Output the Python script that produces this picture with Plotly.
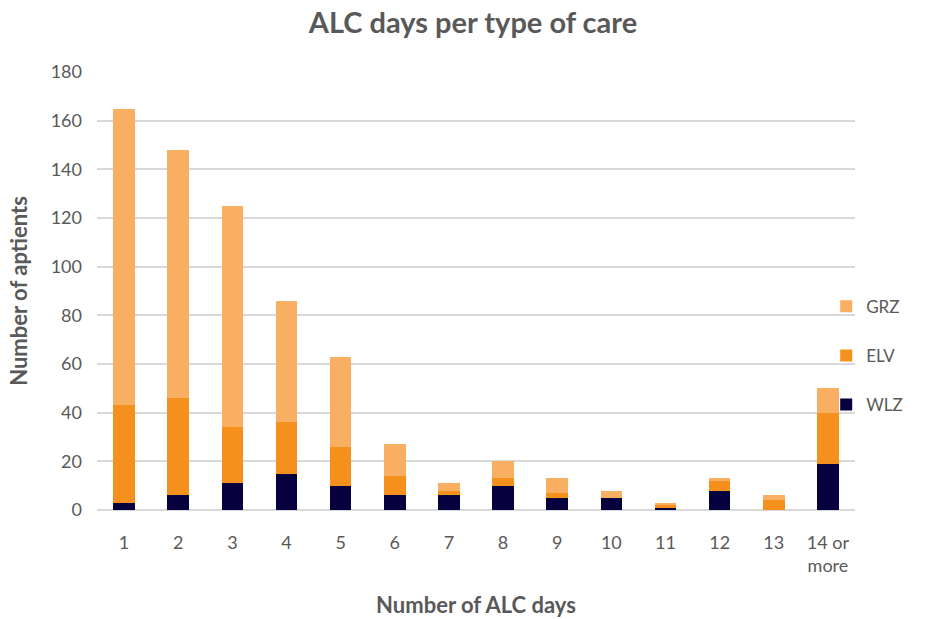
import plotly.graph_objects as go

# ALC days per type of care: stacked counts of patients
categories = ["1", "2", "3", "4", "5", "6", "7", "8", "9", "10", "11", "12", "13", "14 or<br>more"]
wlz = [3, 6, 11, 15, 10, 6, 6, 10, 5, 5, 1, 8, 0, 19]
elv = [40, 40, 23, 21, 16, 8, 2, 3, 2, 0, 1, 4, 4, 21]
grz = [122, 102, 91, 50, 37, 13, 3, 7, 6, 3, 1, 1, 2, 10]

y_ticks = [0, 20, 40, 60, 80, 100, 120, 140, 160, 180]

FONT = "Lato, 'Open Sans', sans-serif"
GREY = "#595959"

fig = go.Figure()
# stacked bottom-to-top; legend lists them top-to-bottom (GRZ first)
for rank, (name, vals, color) in enumerate([("WLZ", wlz, "#07003E"),
                                            ("ELV", elv, "#F5901C"),
                                            ("GRZ", grz, "#F9AF62")]):
    fig.add_trace(go.Bar(
        x=categories, y=vals, name=name, legendgroup=name,
        legendrank=1000 - rank,
        marker=dict(color=color, line=dict(width=0)),
    ))

fig.update_layout(
    barmode="stack",
    bargap=0.6,
    width=946, height=619,
    margin=dict(l=97, r=91, t=72, b=109),
    paper_bgcolor="white",
    plot_bgcolor="white",
    font=dict(family=FONT, color=GREY, size=18),
    title=dict(
        text="<b>ALC days per type of care</b>",
        x=0.5, xanchor="center", y=0.963, yanchor="middle",
        font=dict(family=FONT, size=29, color=GREY),
    ),
    legend=dict(
        traceorder="grouped",
        tracegroupgap=24,
        x=0.962, xanchor="left", y=0.352, yanchor="middle",
        font=dict(family=FONT, size=17, color=GREY),
        bgcolor="rgba(0,0,0,0)",
    ),
    xaxis=dict(
        automargin=False,
        showgrid=False, showline=False, zeroline=False,
        tickfont=dict(family=FONT, size=18, color=GREY),
        ticklabelstandoff=20,
        title=dict(text="<b>Number of ALC days</b>",
                   font=dict(family=FONT, size=22, color=GREY), standoff=22),
    ),
    yaxis=dict(
        automargin=False,
        range=[0, 180], tickvals=y_ticks,
        showgrid=True, gridcolor="#D9D9D9", gridwidth=1.5,
        zeroline=True, zerolinecolor="#D9D9D9", zerolinewidth=1.5,
        showline=False,
        tickfont=dict(family=FONT, size=18, color=GREY),
        ticklabelstandoff=14,
        title=dict(text="<b>Number of aptients</b>",
                   font=dict(family=FONT, size=22, color=GREY), standoff=16),
    ),
)

fig.write_html("out.html")
